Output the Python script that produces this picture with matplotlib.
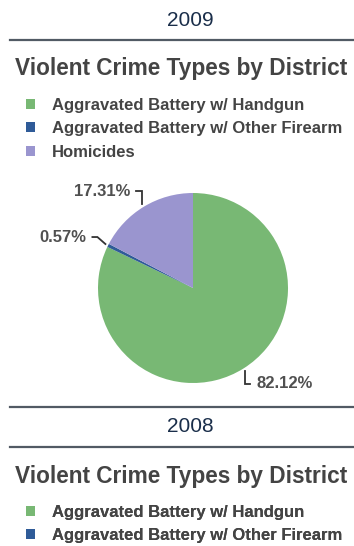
import numpy as np
import matplotlib.pyplot as plt
from matplotlib.patches import Patch

plt.rcParams['font.family'] = ['Liberation Sans', 'DejaVu Sans']

# data
years = ['2009', '2008']
categories = ['Aggravated Battery w/ Handgun',
              'Aggravated Battery w/ Other Firearm',
              'Homicides']
share_2009 = [82.12, 0.57, 17.31]
colors = ['#78b874', '#2f5b98', '#9a95cf']
chart_title = 'Violent Crime Types by District'

W, H = 354, 546
fig = plt.figure(figsize=(W / 100, H / 100), dpi=100)
ax = fig.add_axes([0, 0, 1, 1])


def py(y):
    # pixel row (from the top) -> data y
    return H - y


text_grey = '#444444'
rule_col = '#515a64'


def header(line_y, year, labels):
    ax.text(190, py(line_y - 20), year, ha='center', va='center',
            fontsize=15, color='#1a2e4a')
    ax.plot([10, W], [py(line_y), py(line_y)], color=rule_col, lw=1.6)
    ax.text(15, py(line_y + 29), chart_title, ha='left', va='center',
            fontsize=16.3, fontweight='bold', color=text_grey)
    handles = [Patch(facecolor=c, edgecolor='none') for c in colors[:len(labels)]]
    leg = ax.legend(handles, labels, loc='upper left',
                    bbox_to_anchor=(26, py(line_y + 58)),
                    bbox_transform=ax.transData, frameon=False,
                    borderpad=0, borderaxespad=0, handlelength=0.55,
                    handleheight=0.55, handletextpad=1.0, labelspacing=0.5,
                    prop={'weight': 'bold', 'size': 12}, labelcolor=text_grey)
    ax.add_artist(leg)


# 2009 section
header(40, years[0], categories)

cx, cy, r = 193, 288, 95
wedges, _ = ax.pie(share_2009, colors=colors, startangle=90, counterclock=False,
                   center=(cx, py(cy)), radius=r,
                   wedgeprops=dict(linewidth=0))

# leader elbows (dx, dy in pixels, y down) and label side
leaders = [[(0, 13), (5, 13)], [(-8, -7), (-13, -7)], [(0, -13), (-6, -13)]]
sides = ['left', 'right', 'right']
for w, val, kinks, side in zip(wedges, share_2009, leaders, sides):
    mid = np.deg2rad((w.theta1 + w.theta2) / 2)
    ex = cx + (r + 3) * np.cos(mid)
    ey = cy - (r + 3) * np.sin(mid)
    xs = [ex] + [ex + dx for dx, dy in kinks]
    ys = [ey] + [ey + dy for dx, dy in kinks]
    ax.plot(xs, [py(v) for v in ys], color='#333333', lw=1.3,
            solid_joinstyle='miter')
    tx = xs[-1] + (6 if side == 'left' else -6)
    ax.text(tx, py(ys[-1]), f'{val:.2f}%', ha=side, va='center',
            fontsize=12, fontweight='bold', color='#505050')

ax.plot([10, W], [py(407), py(407)], color=rule_col, lw=1.6)

# 2008 section (cut off at the bottom)
header(447, years[1], categories[:2])

ax.set_xlim(0, W)
ax.set_ylim(0, H)
ax.axis('off')

fig.savefig('out.png', dpi=100)
